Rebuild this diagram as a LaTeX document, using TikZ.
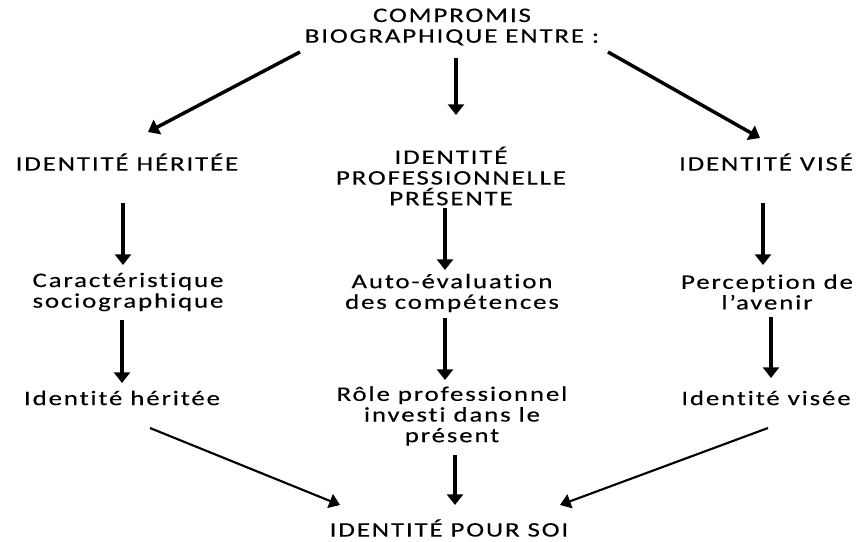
\documentclass[tikz,border=0pt]{standalone}
\usepackage{fontspec}
\setmainfont{Carlito}[FakeStretch=1.3,LetterSpace=9,Ligatures=NoCommon,FakeBold=0.25]
\usetikzlibrary{arrows.meta,calc}
\tikzset{
  txt/.style={align=center,inner sep=0pt,font=\fontsize{15.5}{15.5}\selectfont},
  arr/.style={line width=2.6pt,-{Triangle[length=8pt,width=12pt]}},
  thin arr/.style={line width=1.6pt,-{Triangle[length=8pt,width=11pt]}}
}
\begin{document}
\begin{tikzpicture}[x=0.75pt,y=-0.75pt]
            \useasboundingbox (0,0) rectangle (858,542);
            
            % Drawing the title
            \node [txt] (top) at (452,27) {COMPROMIS\\BIOGRAPHIQUE ENTRE :};%
            
            % Drawing the three identities
            \node [txt] (her) at (127,162) {IDENTITÉ HÉRITÉE};%
            \node [txt] (prof) at (451,176) {IDENTITÉ\\PROFESSIONNELLE\\PRÉSENTE};%
            \node [txt] (vis) at (766,162) {IDENTITÉ VISÉ};%
            
            % Drawing the middle row
            \node [txt] (car) at (128,292) {Caractéristique\\sociographique};%
            \node [txt] (aut) at (452,293) {Auto-évaluation\\des compétences};%
            \node [txt] (per) at (767,292) {Perception de\\l’avenir};%
            
            % Drawing the lower row
            \node [txt] (ih) at (122,398) {Identité héritée};%
            \node [txt] (role) at (452,416) {Rôle professionnel\\investi dans le\\présent};%
            \node [txt] (iv) at (766,398) {Identité visée};%
            
            % Drawing the result
            \node [txt] (soi) at (449,528) {IDENTITÉ POUR SOI};%
            
            % Drawing arrows from the title
            \draw [arr] ($(top)+(-152,25)$) -- ($(her)+(21,-30)$);%
            \draw [arr] ($(top)+(4,31)$) -- ($(prof)+(5,-61)$);%
            \draw [arr] ($(top)+(156,25)$) -- ($(vis)+(-6,-24)$);%
            
            % Drawing the column arrows
            \draw [arr] ($(her)+(-4,41)$) -- ($(car)+(-5,-27)$);%
            \draw [arr] ($(car)+(-6,28)$) -- ($(ih)+(0,-15)$);%
            \draw [arr] ($(prof)+(-6,32)$) -- ($(aut)+(-7,-23)$);%
            \draw [arr] ($(aut)+(-7,25)$) -- ($(role)+(-7,-36)$);%
            \draw [arr] ($(vis)+(-3,41)$) -- ($(per)+(-4,-27)$);%
            \draw [arr] ($(per)+(4,25)$) -- ($(iv)+(5,-20)$);%
            
            % Drawing arrows to the result
            \draw [thin arr] ($(ih)+(28,30)$) -- ($(soi)+(-109,-23)$);%
            \draw [arr] ($(role)+(3,39)$) -- ($(soi)+(6,-23)$);%
            \draw [thin arr] ($(iv)+(2,30)$) -- ($(soi)+(111,-23)$);%
\end{tikzpicture}
\end{document}
